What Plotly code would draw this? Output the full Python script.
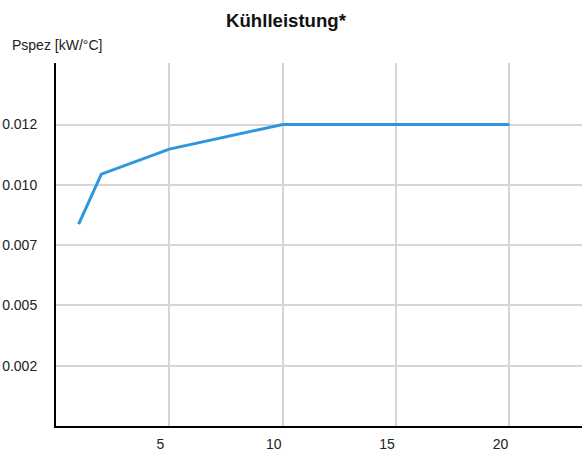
import plotly.graph_objects as go

x_vals = [1, 2, 5, 10, 20]
y_vals = [0.00837, 0.01044, 0.01148, 0.0125, 0.0125]

y_tickvals = [0.0025, 0.005, 0.0075, 0.01, 0.0125]
y_ticktext = ["0.002", "0.005", "0.007", "0.010", "0.012"]
x_tickvals = [5, 10, 15, 20]
x_ticktext = ["5", "10", "15", "20"]

title_text = "Kühlleistung*"
y_label = "Pspez [kW/°C]"

W, H = 583, 457
# desired plot area in page pixels: x 56..582, y 63..426
L = 56
T = 63
R = W - 582
B = H - 426
PW = W - L - R
PH = H - T - B

fig = go.Figure()
fig.add_trace(go.Scatter(
    x=x_vals, y=y_vals, mode="lines",
    line=dict(color="#2E96DC", width=3),
    hoverinfo="skip", showlegend=False,
))

fig.update_layout(
    width=W, height=H,
    margin=dict(l=L, r=R, t=T, b=B, pad=0, autoexpand=False),
    paper_bgcolor="white", plot_bgcolor="white",
    font=dict(family="Liberation Sans, Arial, sans-serif", size=14, color="#222"),
    title=dict(text=f"<b>{title_text}</b>", xref="container", x=286 / W,
               xanchor="center", yref="container", y=1 - 20 / H,
               yanchor="middle", font=dict(size=18.6, color="#111"), automargin=False),
    xaxis=dict(range=[0, 23.2], tickvals=x_tickvals, ticktext=x_ticktext,
               showgrid=True, gridcolor="#d6d6d6", gridwidth=1.5,
               showline=True, linecolor="black", linewidth=2,
               ticks="", ticklabelstandoff=4, ticklabelshift=-9,
               zeroline=False, fixedrange=True, automargin=False),
    yaxis=dict(range=[0, 0.01505], tickvals=y_tickvals, ticktext=y_ticktext,
               showgrid=True, gridcolor="#d6d6d6", gridwidth=1.5,
               showline=True, linecolor="black", linewidth=2,
               ticks="", ticklabelstandoff=14,
               zeroline=False, fixedrange=True, automargin=False),
    annotations=[dict(text=y_label, xref="paper", yref="paper",
                      x=(10 - L) / PW, xanchor="left",
                      y=1 + (T - 45) / PH, yanchor="middle",
                      showarrow=False, font=dict(size=14, color="#222"))],
)

fig.write_html("out.html", config={"displayModeBar": False},
               post_script="document.body.style.margin='0';")
